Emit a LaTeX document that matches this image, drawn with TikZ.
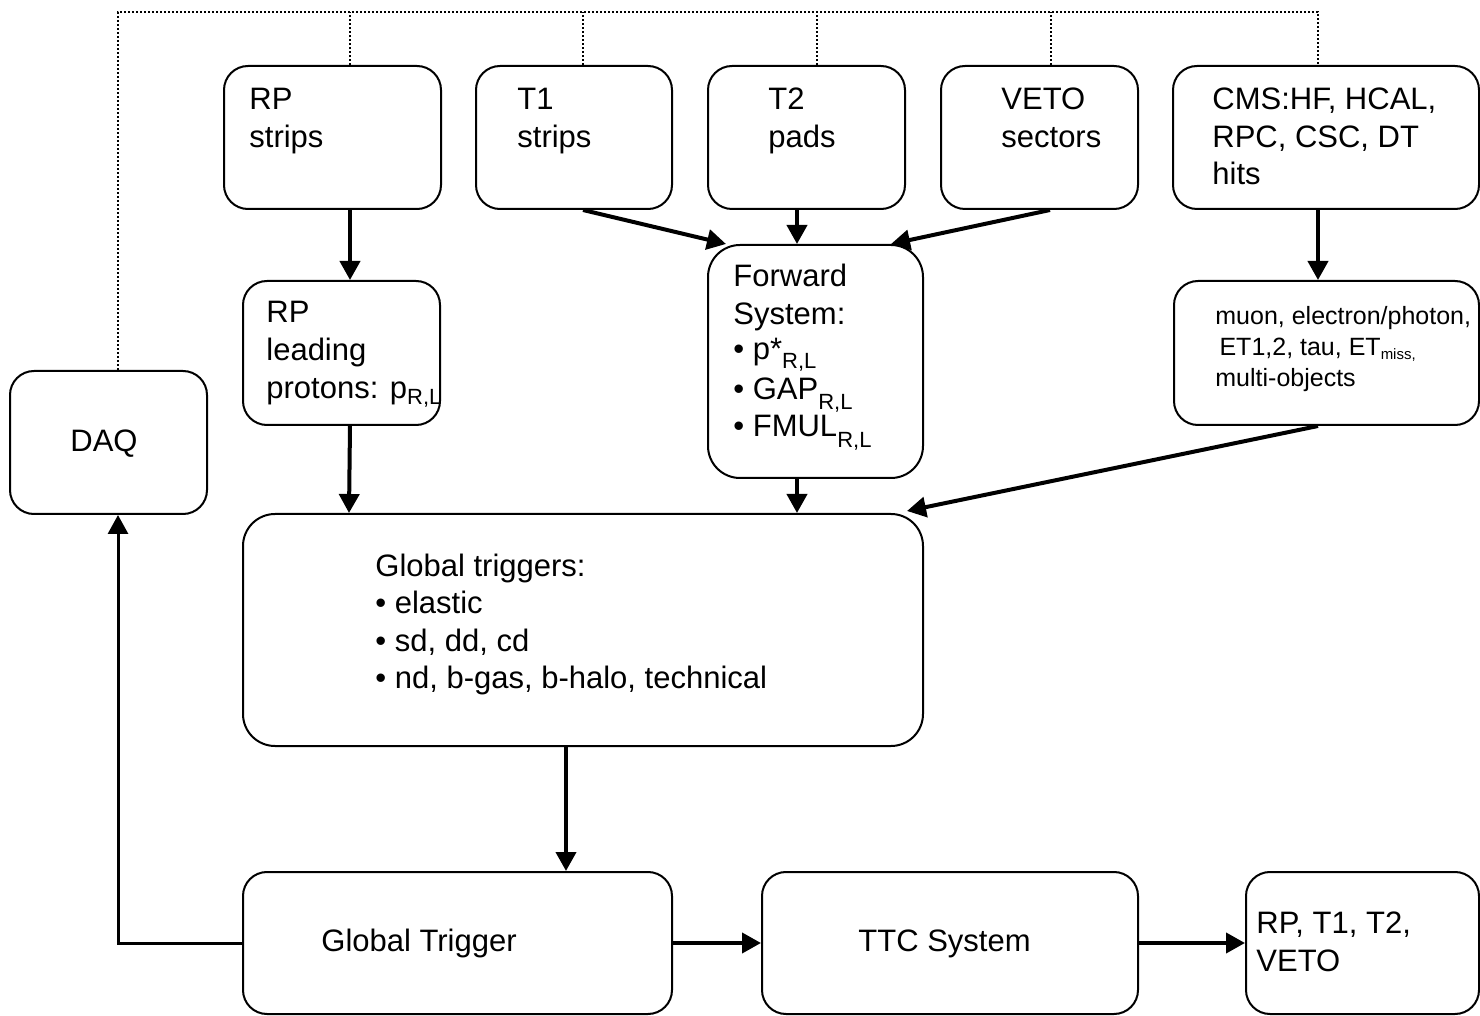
\documentclass[tikz,border=0pt]{standalone}
\usepackage{fontspec}
\setmainfont{Liberation Sans}
\usetikzlibrary{arrows.meta,calc}

% lowered subscript in a smaller size
\newcommand\lsub[2][-3pt]{\raisebox{#1}{\fontsize{11}{12}\selectfont #2}}
\newcommand\tinysub[2][-2pt]{\raisebox{#1}{\fontsize{7.5}{8}\selectfont #2}}

\tikzset{
  box/.style={draw, line width=1pt, rounded corners=12pt, inner sep=0pt},
  txt/.style={anchor=base west, inner sep=0pt, font=\fontsize{15.5}{18}\selectfont},
  smalltxt/.style={anchor=base west, inner sep=0pt, font=\fontsize{12.5}{15}\selectfont},
  flow/.style={line width=2pt, -{Triangle[length=9.5pt,width=10pt]}},
  thinflow/.style={line width=1.5pt, -{Triangle[length=9.5pt,width=10pt]}},
  bus/.style={line width=1.3pt, dash pattern=on 1pt off 1pt},
}

\begin{document}
\begin{tikzpicture}[x=0.5pt,y=-0.5pt]
\useasboundingbox (0,0) rectangle (1480,1016);

% ---------- boxes ----------
\node[box, minimum width=108.5pt, minimum height=71.5pt] (rps)  at (332.5,137.5) {};
\node[box, minimum width=98pt,    minimum height=71.5pt] (t1)   at (574,137.5) {};
\node[box, minimum width=98.5pt,  minimum height=71.5pt] (t2)   at (806.5,137.5) {};
\node[box, minimum width=98.5pt,  minimum height=71.5pt] (veto) at (1039.5,137.5) {};
\node[box, minimum width=153pt,   minimum height=71.5pt] (cms)  at (1326,137.5) {};

\node[box, minimum width=98.5pt,  minimum height=72pt] (rpl)  at (341.5,353) {};
\node[box, rounded corners=16pt, minimum width=107.5pt, minimum height=116.5pt] (fwd) at (815.5,361.5) {};
\node[box, minimum width=152.5pt, minimum height=72pt] (muon) at (1326.5,353) {};

\node[box, minimum width=98.5pt,  minimum height=71.5pt] (daq)  at (108.5,442.5) {};
\node[box, rounded corners=16pt, minimum width=340pt, minimum height=116pt] (gts) at (583,630) {};

\node[box, minimum width=214.5pt, minimum height=71pt] (gt)   at (457.5,943) {};
\node[box, minimum width=188pt,   minimum height=71pt] (ttc)  at (950,943) {};
\node[box, minimum width=116.5pt, minimum height=71pt] (outb) at (1362.5,943) {};

% ---------- texts ----------
\node[txt] (rps1) at (249,110) {RP};
\node[txt] (rps2) at (249,147.5) {strips};
\node[txt] (t1a) at (517,110) {T1};
\node[txt] (t1b) at (517,147.5) {strips};
\node[txt] (t2a) at (768,110) {T2};
\node[txt] (t2b) at (768,147.5) {pads};
\node[txt] (vta) at (1001,110) {VETO};
\node[txt] (vtb) at (1001,147.5) {sectors};
\node[txt] (cmsa) at (1212,110) {CMS:HF, HCAL,};
\node[txt] (cmsb) at (1212,147.5) {RPC, CSC, DT};
\node[txt] (cmsc) at (1212,185) {hits};

\node[txt] (rpla) at (266,323) {RP};
\node[txt] (rplb) at (266,361) {leading};
\node[txt] (rplc) at (266,399) {protons: p\lsub[-3pt]{R,L}};

\node[txt] (fwda) at (733,287) {Forward};
\node[txt] (fwdb) at (733,324.5) {System:};
\node[txt] (fwdc) at (733,360) {\textbullet\ p*\lsub[-4.5pt]{R,L}};
\node[txt] (fwdd) at (733,399.5) {\textbullet\ GAP\lsub[-5pt]{R,L}};
\node[txt] (fwde) at (733,437) {\textbullet\ FMUL\lsub[-5.5pt]{R,L}};

\node[smalltxt] (mua) at (1215,325) {muon, electron/photon,};
\node[smalltxt] (mub) at (1215,356) {\,ET1,2, tau, ET\tinysub{miss,}};
\node[smalltxt] (muc) at (1215,387) {multi-objects};

\node[txt] (daqt) at (70,452) {DAQ};

\node[txt] (gtsa) at (375,576) {Global triggers:};
\node[txt] (gtsb) at (375,613.5) {\textbullet\ elastic};
\node[txt] (gtsc) at (375,651) {\textbullet\ sd, dd, cd};
\node[txt] (gtsd) at (375,688.5) {\textbullet\ nd, b-gas, b-halo, technical};

\node[txt] (gtt) at (321,951) {Global Trigger};
\node[txt] (ttct) at (858,951) {TTC System};
\node[txt] (outa) at (1256,933) {RP, T1, T2,};
\node[txt] (outc) at (1256,971) {VETO};

% ---------- dotted readout bus ----------
\coordinate (busL) at (118,12);
\coordinate (busR) at (1318,12);
\coordinate (tapdaq) at ($(daq.north)+(9.5,0)$);
\coordinate (taprps) at ($(rps.north)+(17.5,0)$);
\coordinate (tapt1)  at ($(t1.north)+(9,0)$);
\coordinate (tapt2)  at ($(t2.north)+(10.5,0)$);
\coordinate (tapveto) at ($(veto.north)+(11.5,0)$);
\coordinate (tapcms) at ($(cms.north)+(-8,0)$);
\draw[bus] (tapdaq) -- (busL) -- (busR) -- (tapcms);
\draw[bus] (taprps) -- (taprps |- busL);
\draw[bus] (tapt1) -- (tapt1 |- busL);
\draw[bus] (tapt2) -- (tapt2 |- busL);
\draw[bus] (tapveto) -- (tapveto |- busL);

% ---------- trigger flow ----------
\draw[flow] ($(rps.south)+(17.5,0)$) -- ($(rpl.north)+(8.5,0)$);
\draw[flow] ($(t1.south)+(9,0)$) -- ($(fwd.north west)+(19,0)$);
\draw[flow] ($(t2.south)+(-9.5,0)$) -- ($(fwd.north)+(-18.5,0)$);
\draw[flow] ($(veto.south)+(10.5,0)$) -- ($(fwd.north east)+(-33,0)$);
\draw[flow] ($(cms.south)+(-8,0)$) -- ($(muon.north)+(-8.5,0)$);

\draw[flow] ($(rpl.south)+(8.5,0)$) -- ($(gts.north west)+(107,0)$);
\draw[flow] ($(fwd.south)+(-18.5,0)$) -- ($(gts.north)+(214,0)$);
\draw[flow] ($(muon.south)+(-8.5,0)$) -- ($(gts.north east)+(-17,-2)$);

\draw[flow] ($(gts.south)+(-17,0)$) -- ($(gt.north)+(108.5,0)$);
\draw[flow] (gt.east) -- (ttc.west);
\draw[flow] (ttc.east) -- (outb.west);
\draw[thinflow] (gt.west) -| (tapdaq |- daq.south);
\end{tikzpicture}
\end{document}
